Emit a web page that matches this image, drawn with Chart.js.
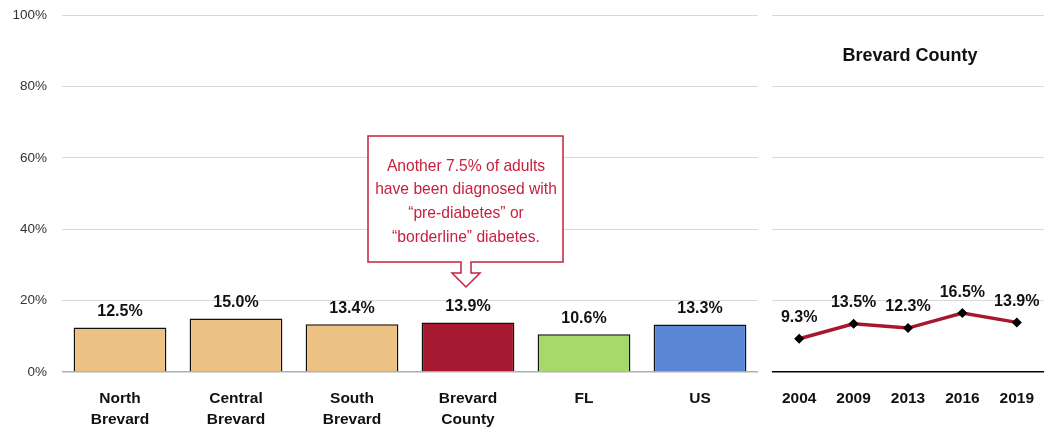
<!DOCTYPE html>
<html>
<head>
<meta charset="utf-8">
<script src="https://cdn.jsdelivr.net/npm/chart.js@4"></script>
<style>
	body { margin: 0; background: #fff; }
	#grafico { position: absolute; left: 0; top: 0; }
	#grafico2 { position: absolute; left: 772px; top: 0; }
</style>
</head>
<body>
<canvas id="grafico" width="760" height="427"></canvas>
<canvas id="grafico2" width="273" height="427"></canvas>
<script>
// Datos de las barras
const regiones = [["North", "Brevard"], ["Central", "Brevard"], ["South", "Brevard"], ["Brevard", "County"], "FL", "US"];
const valores = [12.5, 15.0, 13.4, 13.9, 10.6, 13.3];
const colores = ["#ebc283", "#ebc283", "#ebc283", "#a5182f", "#a6d96a", "#5b86d6"];

// Datos de la serie temporal
const anios = ["2004", "2009", "2013", "2016", "2019"];
const tendencia = [9.3, 13.5, 12.3, 16.5, 13.9];

const ticksY = [0, 20, 40, 60, 80, 100];
const tituloDer = "Brevard County";
const nota = ["Another 7.5% of adults", "have been diagnosed with", "\u201Cpre-diabetes\u201D or", "\u201Cborderline\u201D diabetes."];

const fuente = "'Liberation Sans', Arial, sans-serif";
const rojo = "#a5182f";

// Etiquetas encima de cada barra / punto
const etiquetas = (dist) => ({
	id: "etiquetas",
	afterDatasetsDraw(chart) {
		const ctx = chart.ctx;
		const meta = chart.getDatasetMeta(0);
		const data = chart.data.datasets[0].data;
		ctx.save();
		ctx.font = "bold 16px " + fuente;
		ctx.fillStyle = "#111";
		ctx.textAlign = "center";
		ctx.textBaseline = "middle";
		meta.data.forEach((el, i) => {
			ctx.fillText(data[i].toFixed(1) + "%", el.x, el.y - dist);
		});
		ctx.restore();
	},
});

// Cuadro con la nota y la flecha
const cuadroNota = {
	id: "cuadroNota",
	afterDatasetsDraw(chart) {
		const ctx = chart.ctx;
		ctx.save();
		ctx.beginPath();
		ctx.moveTo(368, 136);
		ctx.lineTo(563, 136);
		ctx.lineTo(563, 262);
		ctx.lineTo(471, 262);
		ctx.lineTo(471, 273);
		ctx.lineTo(480, 273);
		ctx.lineTo(466, 287);
		ctx.lineTo(452, 273);
		ctx.lineTo(461, 273);
		ctx.lineTo(461, 262);
		ctx.lineTo(368, 262);
		ctx.closePath();
		ctx.fillStyle = "#fff";
		ctx.fill();
		ctx.strokeStyle = "#c8213f";
		ctx.lineWidth = 1.5;
		ctx.stroke();
		// texto algo estrecho, como en el original
		ctx.translate(466, 0);
		ctx.scale(0.92, 1);
		ctx.font = "17px " + fuente;
		ctx.fillStyle = "#c8213f";
		ctx.textAlign = "center";
		ctx.textBaseline = "middle";
		nota.forEach((t, i) => ctx.fillText(t, 0, 166 + i * 23.7));
		ctx.restore();
	},
};

const tituloPlugin = {
	id: "tituloPlugin",
	afterDraw(chart) {
		const ctx = chart.ctx;
		ctx.save();
		ctx.font = "bold 18px " + fuente;
		ctx.fillStyle = "#111";
		ctx.textAlign = "center";
		ctx.textBaseline = "middle";
		ctx.fillText(tituloDer, 138, 56);
		ctx.restore();
	},
};

const escalaY = (conTicks, colorCero) => ({
	min: 0,
	max: 100,
	afterBuildTicks: (s) => { s.ticks = ticksY.map((v) => ({ value: v })); },
	afterFit: (s) => {
		s.width = conTicks ? 62 : 0;
		s.paddingTop = 0;
		s.paddingBottom = 0;
	},
	border: { display: false },
	grid: {
		drawTicks: false,
		lineWidth: (c) => (c.tick.value === 0 ? 1.5 : 1),
		color: (c) => (c.tick.value === 0 ? colorCero : "#d9d9d9"),
	},
	ticks: {
		display: conTicks,
		padding: 15,
		color: "#333",
		font: { family: fuente, size: 13.5 },
		callback: (v) => v + "%",
	},
});

const escalaX = {
	afterFit: (s) => {
		s.height = 55;
		s.paddingLeft = 0;
		s.paddingRight = 0;
	},
	grid: { display: false },
	border: { display: false },
	ticks: {
		padding: 8,
		color: "#111",
		maxRotation: 0,
		autoSkip: false,
		font: { family: fuente, size: 15.5, weight: "bold", lineHeight: 1.35 },
	},
};

new Chart(document.getElementById("grafico"), {
	type: "bar",
	data: {
		labels: regiones,
		datasets: [
			{
				data: valores,
				backgroundColor: colores,
				borderColor: "#111",
				borderWidth: 1.5,
				barPercentage: 0.8,
				categoryPercentage: 1,
			},
		],
	},
	options: {
		responsive: false,
		animation: false,
		devicePixelRatio: 1,
		layout: { autoPadding: false, padding: { top: 15, right: 2, left: 0, bottom: 0 } },
		plugins: { legend: { display: false }, tooltip: { enabled: false } },
		scales: { x: escalaX, y: escalaY(true, "#b0b0b0") },
	},
	plugins: [etiquetas(15.5), cuadroNota],
});

new Chart(document.getElementById("grafico2"), {
	type: "line",
	data: {
		labels: anios,
		datasets: [
			{
				data: tendencia,
				borderColor: rojo,
				borderWidth: 3.5,
				pointStyle: "rectRot",
				pointRadius: 5,
				pointBackgroundColor: "#000",
				pointBorderColor: "#000",
				pointBorderWidth: 0,
			},
		],
	},
	options: {
		responsive: false,
		animation: false,
		devicePixelRatio: 1,
		layout: { autoPadding: false, padding: { top: 15, right: 1, left: 0, bottom: 0 } },
		plugins: { legend: { display: false }, tooltip: { enabled: false } },
		scales: { x: { ...escalaX, offset: true }, y: escalaY(false, "#000") },
	},
	plugins: [etiquetas(21), tituloPlugin],
});
</script>
</body>
</html>
